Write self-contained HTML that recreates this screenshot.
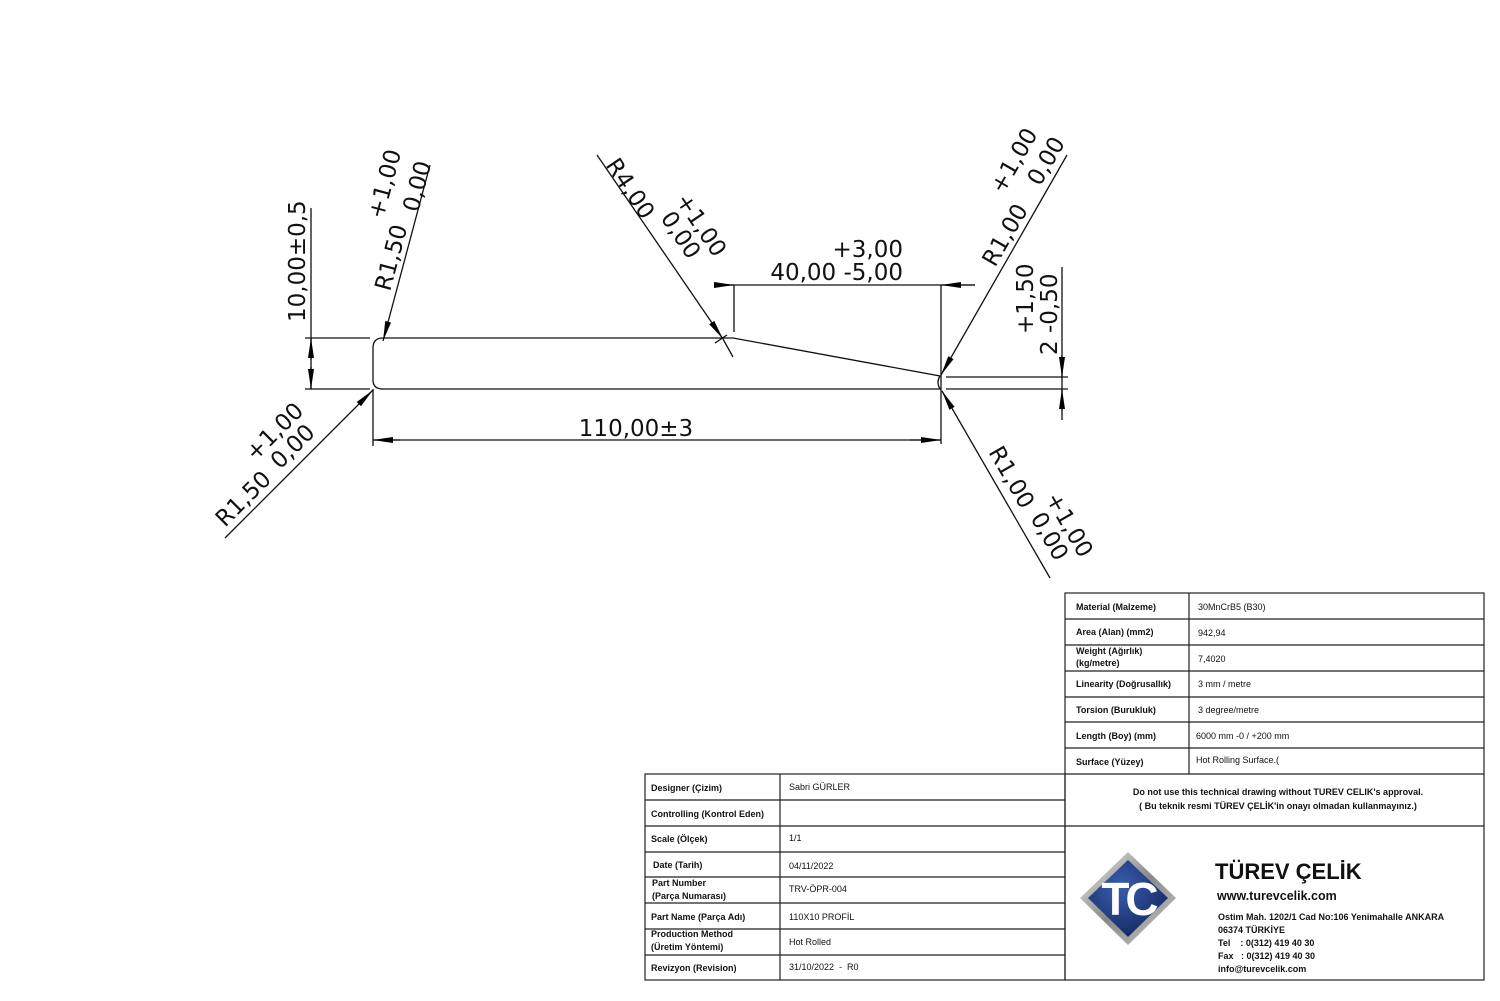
<!DOCTYPE html>
<html><head><meta charset="utf-8"><style>
body{margin:0;background:#fff}
svg{display:block}
.d{font-family:"DejaVu Sans","Liberation Sans",sans-serif;font-size:23px;fill:#111}
.t{font-family:"Liberation Sans",sans-serif;font-size:9px;fill:#111}
.b{font-weight:bold}
</style></head><body>
<svg width="1500" height="1001" viewBox="0 0 1500 1001" xmlns="http://www.w3.org/2000/svg">
<defs>
<marker id="a" viewBox="0 0 20 8" refX="20" refY="4" markerWidth="20" markerHeight="8" markerUnits="userSpaceOnUse" orient="auto"><path d="M0,1 L20,4 L0,7z" fill="#000"/></marker>
<linearGradient id="g" x1="0" y1="0" x2="1" y2="1"><stop offset="0" stop-color="#eee"/><stop offset=".5" stop-color="#888"/><stop offset="1" stop-color="#ccc"/></linearGradient>
<radialGradient id="bl" cx=".4" cy=".35" r=".8"><stop offset="0" stop-color="#3a5fae"/><stop offset="1" stop-color="#0c1f55"/></radialGradient>
</defs>
<g stroke="#111" stroke-width="1.3" fill="none">
<path d="M383,338 L733,338 L940,376 Q936,382 940,389 L383,389 Q373,389 373,380 L373,348 Q373,338 383,338"/>
<line x1="311" y1="208" x2="311" y2="389"/>
<line x1="305" y1="338" x2="370" y2="338"/>
<line x1="305" y1="389" x2="370" y2="389"/>
<line x1="311" y1="360" x2="311" y2="338" marker-end="url(#a)"/>
<line x1="311" y1="367" x2="311" y2="389" marker-end="url(#a)"/>
<line x1="430" y1="165" x2="383" y2="341" marker-end="url(#a)"/>
<line x1="597" y1="155" x2="723" y2="339" marker-end="url(#a)"/>
<line x1="723" y1="339" x2="733" y2="357"/>
<line x1="715" y1="343" x2="727" y2="335"/>
<line x1="715" y1="285" x2="975" y2="285"/>
<line x1="715" y1="285" x2="734" y2="285" marker-end="url(#a)"/>
<line x1="975" y1="285" x2="941" y2="285" marker-end="url(#a)"/>
<line x1="734" y1="285" x2="734" y2="332"/>
<line x1="941" y1="285" x2="941" y2="444"/>
<line x1="1067" y1="155" x2="941" y2="375" marker-end="url(#a)"/>
<line x1="1062" y1="267" x2="1062" y2="420"/>
<line x1="946" y1="377" x2="1068" y2="377"/>
<line x1="946" y1="389" x2="1068" y2="389"/>
<line x1="1062" y1="355" x2="1062" y2="377" marker-end="url(#a)"/>
<line x1="1062" y1="411" x2="1062" y2="389" marker-end="url(#a)"/>
<line x1="1050" y1="578" x2="942" y2="391" marker-end="url(#a)"/>
<line x1="373" y1="389" x2="373" y2="446"/>
<line x1="373" y1="440" x2="941" y2="440"/>
<line x1="400" y1="440" x2="373" y2="440" marker-end="url(#a)"/>
<line x1="910" y1="440" x2="941" y2="440" marker-end="url(#a)"/>
<line x1="225" y1="538" x2="373" y2="390" marker-end="url(#a)"/>
</g>
<g class="d">
<text transform="translate(305,322) rotate(-90)">10,00±0,5</text>
<text transform="translate(390,292) rotate(-75)">R1,50</text>
<text transform="translate(383,220) rotate(-75)">+1,00</text>
<text transform="translate(418,213) rotate(-75)">0,00</text>
<text transform="translate(605,165) rotate(56)">R4,00</text>
<text transform="translate(675,200) rotate(56)">+1,00</text>
<text transform="translate(660,218) rotate(56)">0,00</text>
<text x="903" y="257" text-anchor="end">+3,00</text>
<text x="903" y="280" text-anchor="end">40,00 -5,00</text>
<text transform="translate(995,268) rotate(-60)">R1,00</text>
<text transform="translate(1003,195) rotate(-60)">+1,00</text>
<text transform="translate(1040,187) rotate(-60)">0,00</text>
<text transform="translate(1057,355) rotate(-90)">2 -0,50</text>
<text transform="translate(1033,334) rotate(-90)">+1,50</text>
<text transform="translate(988,452) rotate(60)">R1,00</text>
<text transform="translate(1045,498) rotate(60)">+1,00</text>
<text transform="translate(1030,518) rotate(60)">0,00</text>
<text x="636" y="436" text-anchor="middle">110,00±3</text>
<text transform="translate(225,528) rotate(-45)">R1,50</text>
<text transform="translate(255,462) rotate(-45)">+1,00</text>
<text transform="translate(280,470) rotate(-45)">0,00</text>
</g>
<g stroke="#222" stroke-width="1.2" fill="none">
<rect x="1065" y="593" width="419" height="387"/>
<line x1="1189" y1="593" x2="1189" y2="774"/>
<line x1="1065" y1="619" x2="1484" y2="619"/>
<line x1="1065" y1="645" x2="1484" y2="645"/>
<line x1="1065" y1="671" x2="1484" y2="671"/>
<line x1="1065" y1="697" x2="1484" y2="697"/>
<line x1="1065" y1="722" x2="1484" y2="722"/>
<line x1="1065" y1="748" x2="1484" y2="748"/>
<line x1="1065" y1="774" x2="1484" y2="774"/>
<line x1="1065" y1="826" x2="1484" y2="826"/>
<rect x="645" y="774" width="420" height="206"/>
<line x1="780" y1="774" x2="780" y2="980"/>
<line x1="645" y1="800" x2="1065" y2="800"/>
<line x1="645" y1="826" x2="1065" y2="826"/>
<line x1="645" y1="852" x2="1065" y2="852"/>
<line x1="645" y1="877" x2="1065" y2="877"/>
<line x1="645" y1="903" x2="1065" y2="903"/>
<line x1="645" y1="929" x2="1065" y2="929"/>
<line x1="645" y1="955" x2="1065" y2="955"/>
</g>
<g class="t">
<text x="1076" y="610" class="b">Material (Malzeme)</text><text x="1198" y="610">30MnCrB5 (B30)</text>
<text x="1076" y="635" class="b">Area (Alan) (mm2)</text><text x="1198" y="636">942,94</text>
<text x="1076" y="654" class="b">Weight (Ağırlık)</text><text x="1076" y="666" class="b">(kg/metre)</text><text x="1198" y="662">7,4020</text>
<text x="1076" y="687" class="b">Linearity (Doğrusallık)</text><text x="1198" y="687">3 mm / metre</text>
<text x="1076" y="713" class="b">Torsion (Burukluk)</text><text x="1198" y="713">3 degree/metre</text>
<text x="1076" y="739" class="b">Length (Boy) (mm)</text><text x="1196" y="739">6000 mm -0 / +200 mm</text>
<text x="1076" y="765" class="b">Surface (Yüzey)</text><text x="1196" y="763">Hot Rolling Surface.(</text>
<text x="1278" y="795" class="b" text-anchor="middle">Do not use this technical drawing without TUREV CELIK's approval.</text>
<text x="1278" y="809" class="b" text-anchor="middle">( Bu teknik resmi TÜREV ÇELİK'in onayı olmadan kullanmayınız.)</text>
<text x="651" y="791" class="b">Designer (Çizim)</text><text x="789" y="790">Sabri GÜRLER</text>
<text x="651" y="817" class="b">Controlling (Kontrol Eden)</text>
<text x="651" y="842" class="b">Scale (Ölçek)</text><text x="789" y="841">1/1</text>
<text x="653" y="868" class="b">Date (Tarih)</text><text x="789" y="869">04/11/2022</text>
<text x="652" y="886" class="b">Part Number</text><text x="652" y="899" class="b">(Parça Numarası)</text><text x="789" y="892">TRV-ÖPR-004</text>
<text x="651" y="920" class="b">Part Name (Parça Adı)</text><text x="789" y="920">110X10 PROFİL</text>
<text x="651" y="937" class="b">Production Method</text><text x="651" y="950" class="b">(Üretim Yöntemi)</text><text x="789" y="945">Hot Rolled</text>
<text x="651" y="971" class="b">Revizyon (Revision)</text><text x="789" y="970" xml:space="preserve">31/10/2022  -  R0</text>
</g>
<path d="M1128,852 L1176,898 L1128,945 L1080,898z" fill="url(#g)"/>
<path d="M1128,860 L1168,898 L1128,937 L1088,898z" fill="url(#bl)"/>
<text x="1128" y="915" text-anchor="middle" font-family="Liberation Sans,sans-serif" font-size="46" font-weight="bold" fill="#fff" letter-spacing="-4">TC</text>
<g font-family="Liberation Sans,sans-serif" font-weight="bold" fill="#111">
<text x="1215" y="879" font-size="22">TÜREV ÇELİK</text>
<text x="1217" y="900" font-size="12.5">www.turevcelik.com</text>
<text x="1218" y="920" font-size="9">Ostim Mah. 1202/1 Cad No:106 Yenimahalle ANKARA</text>
<text x="1218" y="933" font-size="9">06374 TÜRKİYE</text>
<text x="1218" y="946" font-size="9" xml:space="preserve">Tel    : 0(312) 419 40 30</text>
<text x="1218" y="959" font-size="9" xml:space="preserve">Fax   : 0(312) 419 40 30</text>
<text x="1218" y="972" font-size="9">info@turevcelik.com</text>
</g>
</svg>
</body></html>
